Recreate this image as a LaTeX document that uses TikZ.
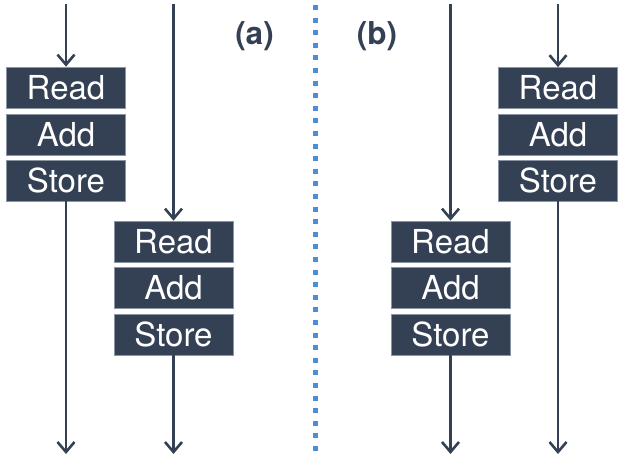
\documentclass[tikz,border=0pt]{standalone}
\usepackage{fontspec}
\setmainfont{TeX Gyre Heros}
\usetikzlibrary{arrows.meta}
\definecolor{slate}{HTML}{344054}
\definecolor{edgegray}{HTML}{8A94A2}
\definecolor{dotblue}{HTML}{4A8FD6}
\begin{document}
\begin{tikzpicture}[x=1pt,y=-1pt,
  opbox/.style={fill=slate,draw=edgegray,line width=0.7pt,minimum width=119pt,minimum height=41pt,inner sep=0pt,text=white,font=\fontsize{33}{38}\selectfont},
  flow/.style={draw=slate,line width=2.6pt,-{Straight Barb[length=10pt,width=17pt,line width=2.6pt]}},
  tag/.style={text=slate,font=\bfseries\fontsize{31.5}{36}\selectfont}]
\useasboundingbox (0,0) rectangle (622,460);
% (a) left thread
\node[opbox] (r1) at (66,87.5) {Read};
\node[opbox] (a1) at (66,134.5) {Add};
\node[opbox] (s1) at (66,180.5) {Store};
% (a) right thread
\node[opbox] (r2) at (173.5,241.5) {Read};
\node[opbox] (a2) at (173.5,288) {Add};
\node[opbox] (s2) at (173.5,334.5) {Store};
% (b) left thread
\node[opbox] (r3) at (450.5,241.5) {Read};
\node[opbox] (a3) at (450.5,288) {Add};
\node[opbox] (s3) at (450.5,334.5) {Store};
% (b) right thread
\node[opbox] (r4) at (558,88) {Read};
\node[opbox] (a4) at (558,134.5) {Add};
\node[opbox] (s4) at (558,180.5) {Store};
% endpoints
\coordinate (t1) at (66,4);
\coordinate (b1) at (66,454);
\coordinate (t2) at (173.5,4);
\coordinate (b2) at (173.5,454);
\coordinate (t3) at (450.5,4);
\coordinate (b3) at (450.5,454);
\coordinate (t4) at (558,4);
\coordinate (b4) at (558,454);
\draw[flow] (t1) -- (r1.north);
\draw[flow] (s1.south) -- (b1);
\draw[flow] (t2) -- (r2.north);
\draw[flow] (s2.south) -- (b2);
\draw[flow] (t3) -- (r3.north);
\draw[flow] (s3.south) -- (b3);
\draw[flow] (t4) -- (r4.north);
\draw[flow] (s4.south) -- (b4);
% labels
\node[tag] (la) at (254.5,36) {(a)};
\node[tag] (lb) at (377,36) {(b)};
% divider
\coordinate (d1) at (315,5);
\coordinate (d2) at (315,458);
\draw[dotblue,line width=5pt,dash pattern=on 5pt off 7.6pt] (d1) -- (d2);
\end{tikzpicture}
\end{document}
